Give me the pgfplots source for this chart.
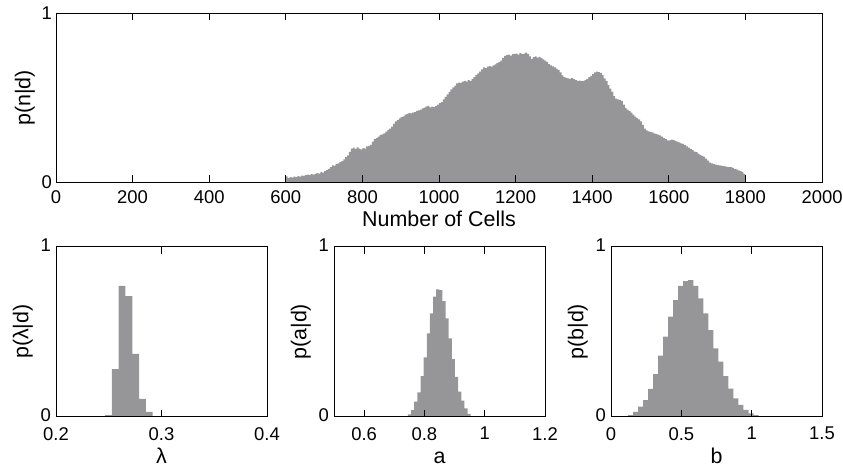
\documentclass[border=0pt]{standalone}
\usepackage{pgfplots}
\pgfplotsset{compat=1.18}
\usepackage{fontspec}
\setmainfont{Liberation Sans}
\definecolor{histgray}{RGB}{150,150,152}
\newcommand{\labfont}{\fontsize{21.5}{25}\selectfont}
\pgfplotsset{
  mystyle/.style={
    scale only axis,
    axis on top,
    axis line style={line width=0.9bp},
    every tick/.style={black, line width=0.8bp},
    tick align=inside,
    major tick length=7bp,
    ymin=0, ymax=1, ytick={0,1},
    tick label style={font=\fontsize{18.5}{21}\selectfont},
    yticklabel style={xshift=-0.5bp},
    /pgf/number format/assume math mode=true,
    /pgf/number format/1000 sep={},
    scaled x ticks=false,
    xticklabel style={yshift=-4.5bp},
  },
  bottomstyle/.style={
    mystyle,
    width=211bp, height=170bp,
    xticklabel style={yshift=-2.5bp},
    yticklabel style={yshift=1.5bp, xshift=-1bp},
    every axis y label/.style={at={(axis description cs:-0.157,0.5)}, rotate=90, anchor=center, font=\labfont},
    every axis x label/.style={at={(axis description cs:0.5,-0.275)}, anchor=base, font=\labfont},
  }
}
\begin{document}
\begin{tikzpicture}
\path[use as bounding box] (0,0) rectangle (843bp,-472bp);
% ---------------- top histogram
\begin{axis}[mystyle,
  at={(56bp,-182.3bp)}, anchor=south west,
  width=766bp, height=169bp,
  xmin=0, xmax=2000, xtick={0,200,...,2000},
  xlabel={Number of Cells}, ylabel={p(n|d)},
  every axis y label/.style={at={(axis description cs:-0.0405,0.5)}, rotate=90, anchor=center, font=\labfont},
  every axis x label/.style={at={(axis description cs:0.5,-0.263)}, anchor=base, font=\labfont},
]
\addplot[const plot, fill=histgray, draw=none] coordinates {
(600,.035) (605,.025) (610,.030) (615,.028) (620,.033) (625,.030) (630,.036) (635,.034) (640,.040) (645,.038)
(650,.042) (655,.045) (660,.043) (665,.048) (670,.046) (675,.050) (680,.055) (685,.052) (690,.060) (695,.058)
(700,.066) (705,.072) (710,.080) (715,.090) (720,.100) (725,.098) (730,.108) (735,.112) (740,.120) (745,.125)
(750,.135) (755,.150) (760,.160) (765,.180) (770,.200) (775,.205) (780,.198) (785,.206) (790,.200) (795,.195)
(800,.202) (805,.200) (810,.212) (815,.215) (820,.222) (825,.240) (830,.255) (835,.262) (840,.270) (845,.280)
(850,.284) (855,.290) (860,.300) (865,.310) (870,.318) (875,.330) (880,.345) (885,.360) (890,.368) (895,.378)
(900,.385) (905,.390) (910,.400) (915,.405) (920,.410) (925,.408) (930,.412) (935,.415) (940,.422) (945,.426)
(950,.430) (955,.438) (960,.442) (965,.450) (970,.452) (975,.444) (980,.448) (985,.445) (990,.452) (995,.460)
(1000,.468) (1005,.475) (1010,.490) (1015,.505) (1020,.520) (1025,.535) (1030,.550) (1035,.562) (1040,.572) (1045,.585)
(1050,.590) (1055,.588) (1060,.595) (1065,.600) (1070,.596) (1075,.604) (1080,.600) (1085,.610) (1090,.622) (1095,.635)
(1100,.645) (1105,.655) (1110,.668) (1115,.680) (1120,.676) (1125,.684) (1130,.688) (1135,.685) (1140,.692) (1145,.698)
(1150,.705) (1155,.712) (1160,.720) (1165,.735) (1170,.748) (1175,.752) (1180,.755) (1185,.750) (1190,.758) (1195,.760)
(1200,.762) (1205,.756) (1210,.765) (1215,.758) (1220,.762) (1225,.768) (1230,.760) (1235,.745) (1240,.730) (1245,.740)
(1250,.745) (1255,.738) (1260,.742) (1265,.735) (1270,.728) (1275,.720) (1280,.712) (1285,.700) (1290,.692) (1295,.686)
(1300,.680) (1305,.672) (1310,.665) (1315,.650) (1320,.632) (1325,.622) (1330,.618) (1335,.615) (1340,.612) (1345,.616)
(1350,.610) (1355,.605) (1360,.600) (1365,.602) (1370,.598) (1375,.600) (1380,.604) (1385,.612) (1390,.622) (1395,.630)
(1400,.640) (1405,.650) (1410,.655) (1415,.652) (1420,.648) (1425,.635) (1430,.615) (1435,.600) (1440,.575) (1445,.555)
(1450,.535) (1455,.510) (1460,.495) (1465,.490) (1470,.488) (1475,.482) (1480,.460) (1485,.440) (1490,.430) (1495,.422)
(1500,.412) (1505,.400) (1510,.388) (1515,.380) (1520,.372) (1525,.360) (1530,.340) (1535,.318) (1540,.308) (1545,.302)
(1550,.298) (1555,.295) (1560,.290) (1565,.285) (1570,.282) (1575,.278) (1580,.270) (1585,.262) (1590,.255) (1595,.248)
(1600,.248) (1605,.252) (1610,.250) (1615,.245) (1620,.240) (1625,.236) (1630,.230) (1635,.228) (1640,.220) (1645,.212)
(1650,.205) (1655,.198) (1660,.190) (1665,.182) (1670,.178) (1675,.170) (1680,.162) (1685,.156) (1690,.150) (1695,.140)
(1700,.128) (1705,.116) (1710,.112) (1715,.108) (1720,.105) (1725,.102) (1730,.100) (1735,.098) (1740,.096) (1745,.094)
(1750,.092) (1755,.090) (1760,.090) (1765,.085) (1770,.080) (1775,.076) (1780,.070) (1785,.066) (1790,.060) (1795,.050)
(1800,.050)
} \closedcycle;
\end{axis}
% ---------------- lambda
\begin{axis}[bottomstyle,
  at={(56bp,-416.7bp)}, anchor=south west,
  xmin=0.2, xmax=0.4, xtick={0.2,0.3,0.4},
  xlabel={λ}, ylabel={p(λ|d)},
]
\addplot[const plot, fill=histgray, draw=none] coordinates {
(0.2465,0.01) (0.25295,0.28) (0.2594,0.77) (0.26585,0.71) (0.2723,0.37) (0.27875,0.105) (0.2852,0.028) (0.29165,0.028)
} \closedcycle;
\end{axis}
% ---------------- a
\begin{axis}[bottomstyle,
  at={(334bp,-416.7bp)}, anchor=south west,
  xmin=0.5, xmax=1.2, xtick={0.6,0.8,1,1.2},
  xlabel={a}, ylabel={p(a|d)},
]
\addplot[const plot, fill=histgray, draw=none] coordinates {
(0.7350,0.004) (0.7454,0.014) (0.7558,0.039) (0.7662,0.088) (0.7766,0.143) (0.7870,0.239) (0.7974,0.349) (0.8078,0.490)
(0.8182,0.608) (0.8286,0.706) (0.8390,0.749) (0.8494,0.745) (0.8598,0.680) (0.8702,0.578) (0.8806,0.461) (0.8910,0.339)
(0.9014,0.235) (0.9118,0.147) (0.9222,0.094) (0.9326,0.049) (0.9430,0.016) (0.9534,0.004) (0.9638,0.004)
} \closedcycle;
\end{axis}
% ---------------- b
\begin{axis}[bottomstyle,
  at={(611bp,-416.7bp)}, anchor=south west,
  xmin=0, xmax=1.5, xtick={0,0.5,1,1.5},
  xlabel={b}, ylabel={p(b|d)},
]
\addplot[const plot, fill=histgray, draw=none] coordinates {
(0.0850,0.004) (0.1207,0.010) (0.1564,0.029) (0.1921,0.059) (0.2278,0.098) (0.2635,0.163) (0.2992,0.251) (0.3349,0.359)
(0.3706,0.471) (0.4063,0.588) (0.4420,0.686) (0.4777,0.769) (0.5134,0.798) (0.5491,0.804) (0.5848,0.769) (0.6205,0.696)
(0.6562,0.608) (0.6919,0.510) (0.7276,0.402) (0.7633,0.324) (0.7990,0.239) (0.8347,0.165) (0.8704,0.108) (0.9061,0.070)
(0.9418,0.040) (0.9775,0.020) (1.0132,0.010) (1.0489,0.004) (1.0846,0.004)
} \closedcycle;
\end{axis}
\end{tikzpicture}
\end{document}
